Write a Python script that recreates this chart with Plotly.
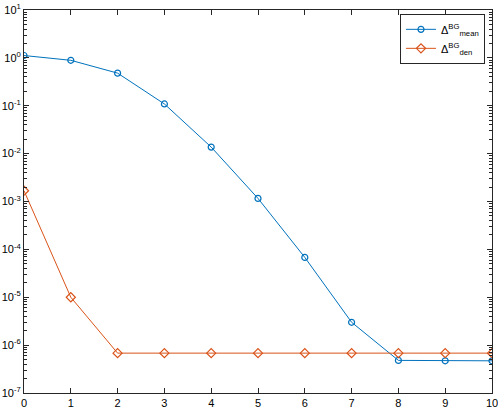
import plotly.graph_objects as go

# iteration index
iters = [0, 1, 2, 3, 4, 5, 6, 7, 8, 9, 10]

# residuals
delta_mean = [1.12, 0.89, 0.48, 0.109, 0.0137, 1.16e-3, 6.8e-5, 3.0e-6, 4.8e-7, 4.7e-7, 4.7e-7]
delta_den = [1.68e-3, 1.0e-5, 6.8e-7, 6.8e-7, 6.8e-7, 6.8e-7, 6.8e-7, 6.8e-7, 6.8e-7, 6.8e-7, 6.8e-7]

y_exps = [1, 0, -1, -2, -3, -4, -5, -6, -7]
y_ticks = [10.0 ** e for e in y_exps]
y_labels = [f"10<sup>{e}</sup>" for e in y_exps]

blue = '#0072BD'
orange = '#D95319'
axis_col = '#262626'
font_family = 'Liberation Sans, Arial'

fig = go.Figure()
fig.add_trace(go.Scatter(
    x=iters, y=delta_mean, mode='lines+markers',
    name='Δ<sup>BG</sup><sub>mean</sub>',
    line=dict(color=blue, width=1),
    marker=dict(symbol='circle-open', size=6, color=blue, line=dict(width=1.2)),
))
fig.add_trace(go.Scatter(
    x=iters, y=delta_den, mode='lines+markers',
    name='Δ<sup>BG</sup><sub>den</sub>',
    line=dict(color=orange, width=1),
    marker=dict(symbol='diamond-open', size=7, color=orange, line=dict(width=1.2)),
))

fig.update_xaxes(
    range=[0, 10], tickmode='linear', tick0=0, dtick=1,
    showline=True, linecolor=axis_col, linewidth=1, mirror='ticks',
    ticks='inside', ticklen=5, tickcolor=axis_col,
    showgrid=False, zeroline=False, ticklabeloverflow='allow', automargin=False,
    tickfont=dict(size=11, color='black', family=font_family),
)
fig.update_yaxes(
    type='log', range=[-7, 1],
    tickmode='array', tickvals=y_ticks, ticktext=y_labels,
    showline=True, linecolor=axis_col, linewidth=1, mirror='ticks',
    ticks='inside', ticklen=5, tickcolor=axis_col,
    minor=dict(ticks='inside', ticklen=3, tickcolor=axis_col, dtick='D1', showgrid=False),
    showgrid=False, zeroline=False, ticklabeloverflow='allow', automargin=False,
    tickfont=dict(size=11, color='black', family=font_family),
)

fig.update_layout(
    width=498, height=412,
    margin=dict(l=24, r=6, t=10, b=19),
    paper_bgcolor='white', plot_bgcolor='white',
    font=dict(family=font_family, size=11, color='black'),
    legend=dict(
        x=0.985, y=0.99, xanchor='right', yanchor='top',
        bordercolor=axis_col, borderwidth=1, bgcolor='white',
        font=dict(size=11), itemwidth=30, tracegroupgap=2,
    ),
)

# drop the default body margin so the figure sits at the page corner
fig.write_html(
    "out.html",
    config={'displayModeBar': False},
    post_script="document.body.style.margin='0';document.body.style.overflow='hidden';",
)
